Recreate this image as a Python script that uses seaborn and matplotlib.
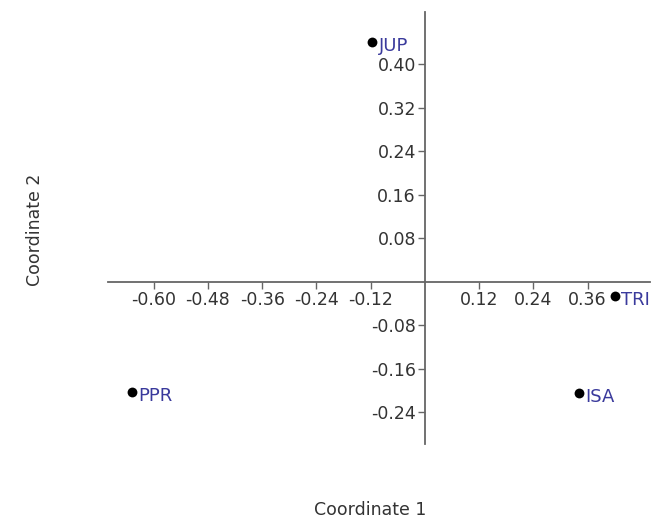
import matplotlib
matplotlib.use("Agg")
import matplotlib.pyplot as plt
import seaborn as sns
import pandas as pd

# Ordination scores for each site
sites = ["JUP", "TRI", "ISA", "PPR"]
coord1 = [-0.116, 0.420, 0.341, -0.648]
coord2 = [0.441, -0.026, -0.204, -0.203]

x_ticks = [-0.60, -0.48, -0.36, -0.24, -0.12, 0.12, 0.24, 0.36]
y_ticks = [-0.24, -0.16, -0.08, 0.08, 0.16, 0.24, 0.32, 0.40]

df = pd.DataFrame({"site": sites, "Coordinate 1": coord1, "Coordinate 2": coord2})

sns.set_theme(style="white")
plt.rcParams["font.family"] = ["DejaVu Sans"]

fig = plt.figure(figsize=(6.59, 5.22), dpi=100)
ax = fig.add_axes([0.1639, 0.1494, 0.8225, 0.8276])

sns.scatterplot(data=df, x="Coordinate 1", y="Coordinate 2", ax=ax,
                color="black", s=50, edgecolor="black", linewidth=0, zorder=3)

for name, x, y in zip(sites, coord1, coord2):
    ax.annotate(name, (x, y), xytext=(4.5, -3), textcoords="offset points",
                ha="left", va="center", fontsize=13, color="#3a3a9c")

ax.set_xlim(-0.701, 0.498)
ax.set_ylim(-0.298, 0.496)

# axes cross at the origin
ax.spines["left"].set_position(("data", 0))
ax.spines["bottom"].set_position(("data", 0))
ax.spines["right"].set_visible(False)
ax.spines["top"].set_visible(False)
for side in ("left", "bottom"):
    ax.spines[side].set_color("#666666")
    ax.spines[side].set_linewidth(1.3)

ax.set_xticks(x_ticks)
ax.set_yticks(y_ticks)
ax.set_xticklabels([f"{v:.2f}" for v in x_ticks])
ax.set_yticklabels([f"{v:.2f}" for v in y_ticks])
ax.tick_params(axis="both", direction="out", length=5, width=1, color="#666666",
               labelsize=12.5, labelcolor="#333333", pad=1.5)
ax.tick_params(axis="x", bottom=True)
ax.tick_params(axis="y", left=True)

ax.set_xlabel("")
ax.set_ylabel("")
fig.text(370 / 659, 1 - 510 / 522, "Coordinate 1", ha="center", va="center",
         fontsize=12.5, color="#333333")
fig.text(35 / 659, 1 - 230 / 522, "Coordinate 2", ha="center", va="center",
         rotation=90, fontsize=12.5, color="#333333")

fig.savefig("out.png", dpi=100, facecolor="white")
